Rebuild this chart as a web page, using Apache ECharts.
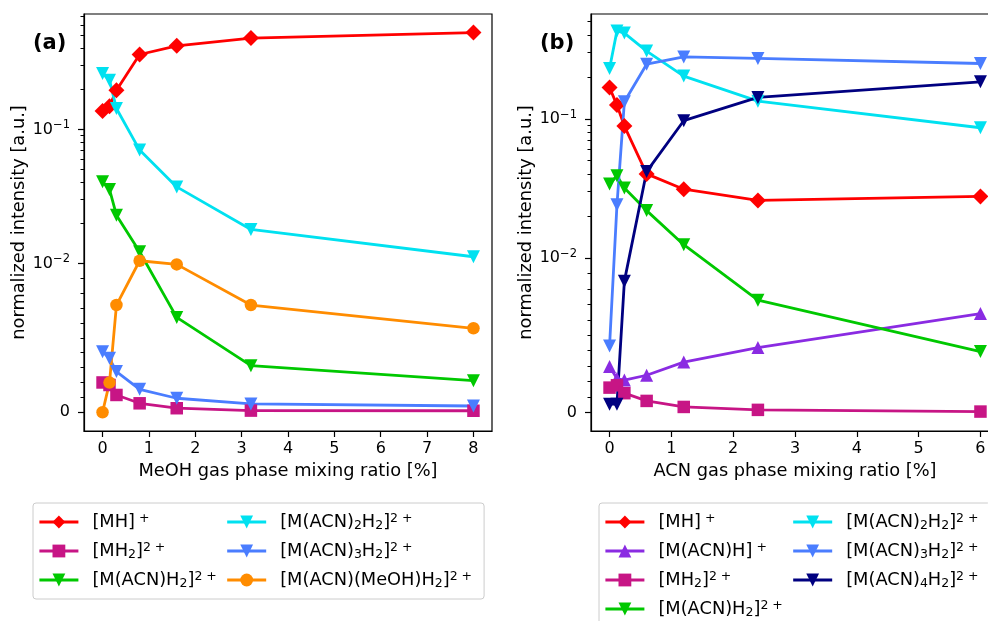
<!DOCTYPE html>
<html>
<head>
<meta charset="utf-8">
<script src="https://cdn.jsdelivr.net/npm/echarts@6/dist/echarts.min.js"></script>
<style>
  html, body { margin: 0; padding: 0; background: #ffffff; }
  #chart { width: 988px; height: 621px; }
</style>
</head>
<body>
<div id="chart"></div>
<script>
// ---- MeOH dopant series (panel a) ----
const meohRatio   = [0, 0.15, 0.3, 0.8, 1.6, 3.2, 8];
const meohMH      = [0.137, 0.149, 0.196, 0.362, 0.42, 0.48, 0.528];
const meohMH2     = [0.0020, 0.00183, 0.00116, 0.0006, 0.00027, 0.00011, 0.0001];
const meohACN1    = [0.0406, 0.0356, 0.0229, 0.0122, 0.00637, 0.00313, 0.00212];
const meohACN2    = [0.261, 0.233, 0.143, 0.070, 0.0372, 0.0179, 0.0112];
const meohACN3    = [0.00407, 0.00362, 0.00273, 0.00154, 0.00094, 0.00056, 0.00042];
const meohACNMeOH = [0, 0.00199, 0.0072, 0.01046, 0.00993, 0.0072, 0.00564];

// ---- ACN dopant series (panel b) ----
const acnRatio  = [0, 0.12, 0.24, 0.6, 1.2, 2.4, 6];
const acnMH     = [0.168, 0.1256, 0.0888, 0.0402, 0.0312, 0.0259, 0.0277];
const acnACN1H  = [0.00297, 0.0022, 0.0021, 0.00241, 0.00326, 0.0042, 0.0064];
const acnMH2    = [0.00161, 0.00176, 0.00125, 0.00075, 0.00036, 0.00017, 0.00006];
const acnACN1   = [0.034, 0.039, 0.0318, 0.0219, 0.01246, 0.00727, 0.00394];
const acnACN2   = [0.230, 0.429, 0.414, 0.307, 0.203, 0.134, 0.0863];
const acnACN3   = [0.0043, 0.0241, 0.1326, 0.247, 0.279, 0.272, 0.250];
const acnACN4   = [0.00054, 0.00054, 0.0085, 0.0418, 0.097, 0.1426, 0.1845];

// ---- tick labels ----
const xTicksA = [0, 1, 2, 3, 4, 5, 6, 7, 8];
const xTicksB = [0, 1, 2, 3, 4, 5, 6];
const yMajorTicks = [0, 0.01, 0.1];
const yMajorLabels = ['0', '10{sup|\u22122}', '10{sup|\u22121}'];
const yMinorTicks = [0.001, 0.002, 0.003, 0.004, 0.005, 0.006, 0.007, 0.008, 0.009,
                     0.02, 0.03, 0.04, 0.05, 0.06, 0.07, 0.08, 0.09,
                     0.2, 0.3, 0.4, 0.5, 0.6, 0.7, 0.8, 0.9];

// symmetric-log scale: linear below 1e-2, logarithmic above
const LINTHRESH = 0.01;
const LINSCALE_ADJ = 1 / (1 - 1 / 10);
function symlog(v) {
  const a = Math.abs(v);
  if (a <= LINTHRESH) return v * LINSCALE_ADJ / LINTHRESH;
  return Math.sign(v) * (LINSCALE_ADJ + Math.log10(a / LINTHRESH));
}

const FONT = 'DejaVu Sans';
const legendText = {
  'a_MH':      '[MH]{sup| +}',
  'a_MH2':     '[MH{sub|2}]{sup|2 +}',
  'a_ACN1':    '[M(ACN)H{sub|2}]{sup|2 +}',
  'a_ACN2':    '[M(ACN){sub|2}H{sub|2}]{sup|2 +}',
  'a_ACN3':    '[M(ACN){sub|3}H{sub|2}]{sup|2 +}',
  'a_ACNMeOH': '[M(ACN)(MeOH)H{sub|2}]{sup|2 +}',
  'b_MH':      '[MH]{sup| +}',
  'b_ACN1H':   '[M(ACN)H]{sup| +}',
  'b_MH2':     '[MH{sub|2}]{sup|2 +}',
  'b_ACN1':    '[M(ACN)H{sub|2}]{sup|2 +}',
  'b_ACN2':    '[M(ACN){sub|2}H{sub|2}]{sup|2 +}',
  'b_ACN3':    '[M(ACN){sub|3}H{sub|2}]{sup|2 +}',
  'b_ACN4':    '[M(ACN){sub|4}H{sub|2}]{sup|2 +}'
};

const C = {
  red: '#ff0000', magenta: '#c71585', green: '#00c800', cyan: '#00e1f0',
  blue: '#4a7dff', orange: '#ff8c00', purple: '#8a2be2', navy: '#000080'
};
const SYM = {
  D: { symbol: 'diamond', size: 16, rotate: 0 },
  s: { symbol: 'rect', size: 12.5, rotate: 0 },
  v: { symbol: 'triangle', size: 13, rotate: 180 },
  '^': { symbol: 'triangle', size: 13, rotate: 0 },
  o: { symbol: 'circle', size: 12.5, rotate: 0 }
};

function makeSeries(name, xs, ys, color, marker, panel) {
  const m = SYM[marker];
  return {
    name: name,
    type: 'line',
    xAxisIndex: panel,
    yAxisIndex: panel * 2,
    data: xs.map((x, i) => [x, symlog(ys[i])]),
    symbol: m.symbol,
    symbolSize: m.size,
    symbolRotate: m.rotate,
    showSymbol: true,
    showAllSymbol: true,
    clip: false,
    lineStyle: { color: color, width: 2.8 },
    itemStyle: { color: color, borderWidth: 0 },
    emphasis: { disabled: true },
    silent: true
  };
}

const series = [
  makeSeries('a_MH', meohRatio, meohMH, C.red, 'D', 0),
  makeSeries('a_MH2', meohRatio, meohMH2, C.magenta, 's', 0),
  makeSeries('a_ACN1', meohRatio, meohACN1, C.green, 'v', 0),
  makeSeries('a_ACN2', meohRatio, meohACN2, C.cyan, 'v', 0),
  makeSeries('a_ACN3', meohRatio, meohACN3, C.blue, 'v', 0),
  makeSeries('a_ACNMeOH', meohRatio, meohACNMeOH, C.orange, 'o', 0),
  makeSeries('b_MH', acnRatio, acnMH, C.red, 'D', 1),
  makeSeries('b_ACN1H', acnRatio, acnACN1H, C.purple, '^', 1),
  makeSeries('b_MH2', acnRatio, acnMH2, C.magenta, 's', 1),
  makeSeries('b_ACN1', acnRatio, acnACN1, C.green, 'v', 1),
  makeSeries('b_ACN2', acnRatio, acnACN2, C.cyan, 'v', 1),
  makeSeries('b_ACN3', acnRatio, acnACN3, C.blue, 'v', 1),
  makeSeries('b_ACN4', acnRatio, acnACN4, C.navy, 'v', 1)
];

const yRange = [
  { min: -0.140, max: 2.972 },
  { min: -0.133, max: 2.865 }
];

function xAxisFor(panel, min, max, ticks, title) {
  return {
    type: 'value', gridIndex: panel, min: min, max: max, position: 'bottom',
    axisLine: { show: true, onZero: false, lineStyle: { color: '#000', width: 1.2 } },
    axisTick: { show: true, customValues: ticks, length: 6, lineStyle: { color: '#000', width: 1.2 } },
    axisLabel: { show: true, customValues: ticks, margin: 10, color: '#000', fontSize: 16, fontFamily: FONT },
    splitLine: { show: false },
    name: title, nameLocation: 'middle', nameGap: 31,
    nameTextStyle: { color: '#000', fontSize: 17.8, fontFamily: FONT }
  };
}

function yAxesFor(panel, nameGap) {
  const r = yRange[panel];
  const majors = yMajorTicks.map(symlog);
  const minors = yMinorTicks.map(symlog).filter(v => v > r.min && v < r.max);
  return [
    {
      type: 'value', gridIndex: panel, min: r.min, max: r.max, position: 'left',
      axisLine: { show: true, onZero: false, lineStyle: { color: '#000', width: 1.2 } },
      axisTick: { show: true, customValues: majors, length: 6, lineStyle: { color: '#000', width: 1.2 } },
      axisLabel: {
        show: true, customValues: majors, margin: 14, color: '#000',
        fontSize: 16, fontFamily: FONT, lineHeight: 20,
        formatter: function (v) {
          for (let i = 0; i < majors.length; i++) {
            if (Math.abs(v - majors[i]) < 1e-6) return yMajorLabels[i];
          }
          return '';
        },
        rich: {
          sup: { fontSize: 11.5, fontFamily: FONT, color: '#000', lineHeight: 11, verticalAlign: 'top' }
        }
      },
      splitLine: { show: false },
      name: 'normalized intensity [a.u.]', nameLocation: 'middle', nameGap: nameGap, nameRotate: 90,
      nameTextStyle: { color: '#000', fontSize: 17.8, fontFamily: FONT }
    },
    {
      // minor ticks of the same scale
      type: 'value', gridIndex: panel, min: r.min, max: r.max, position: 'left',
      axisLine: { show: false, onZero: false },
      axisTick: { show: true, customValues: minors, length: 3.5, lineStyle: { color: '#000', width: 1 } },
      axisLabel: { show: false },
      splitLine: { show: false }
    }
  ];
}

function legendFor(left, height, names) {
  return {
    orient: 'vertical', left: left, top: 503, height: height,
    itemWidth: 39, itemHeight: 16, itemGap: 9,
    padding: [9, 12, 9, 5],
    borderColor: '#cccccc', borderWidth: 1, borderRadius: 3,
    backgroundColor: 'rgba(255,255,255,0.8)',
    selectedMode: false,
    data: names,
    lineStyle: { width: 2.8 },
    formatter: n => legendText[n],
    textStyle: {
      color: '#000', fontSize: 17.8, fontFamily: FONT, lineHeight: 20,
      padding: [0, 0, 0, 9],
      rich: {
        sub: { fontSize: 12.5, fontFamily: FONT, color: '#000', lineHeight: 10, verticalAlign: 'bottom' },
        sup: { fontSize: 12.5, fontFamily: FONT, color: '#000', lineHeight: 13, verticalAlign: 'top' }
      }
    }
  };
}

const option = {
  animation: false,
  backgroundColor: '#ffffff',
  textStyle: { fontFamily: FONT },
  title: [
    { text: '(a)', left: 33, top: 33, padding: 0,
      textStyle: { fontSize: 21, fontWeight: 'bold', color: '#000', fontFamily: FONT } },
    { text: '(b)', left: 540, top: 33, padding: 0,
      textStyle: { fontSize: 21, fontWeight: 'bold', color: '#000', fontFamily: FONT } }
  ],
  grid: [
    { left: 84, top: 14, width: 408, height: 417, show: true, borderColor: '#000', borderWidth: 1.2,
      backgroundColor: 'transparent', containLabel: false, outerBoundsMode: 'none' },
    { left: 591, top: 14, width: 408, height: 417, show: true, borderColor: '#000', borderWidth: 1.2,
      backgroundColor: 'transparent', containLabel: false, outerBoundsMode: 'none' }
  ],
  xAxis: [
    xAxisFor(0, -0.4, 8.4, xTicksA, 'MeOH gas phase mixing ratio [%]'),
    xAxisFor(1, -0.3, 6.3, xTicksB, 'ACN gas phase mixing ratio [%]')
  ],
  yAxis: [].concat(yAxesFor(0, 55), yAxesFor(1, 50)),
  legend: [
    legendFor(33, 90, ['a_MH', 'a_MH2', 'a_ACN1', 'a_ACN2', 'a_ACN3', 'a_ACNMeOH']),
    legendFor(599, 120, ['b_MH', 'b_ACN1H', 'b_MH2', 'b_ACN1', 'b_ACN2', 'b_ACN3', 'b_ACN4'])
  ],
  series: series
};

const chart = echarts.init(document.getElementById('chart'), null, { renderer: 'canvas' });
chart.setOption(option);
</script>
</body>
</html>
